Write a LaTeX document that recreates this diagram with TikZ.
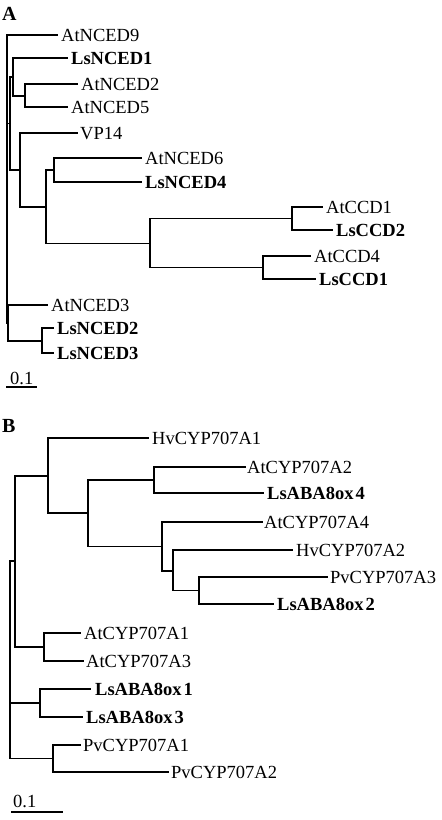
\documentclass[tikz,border=0pt]{standalone}
\usepackage{fontspec}
\setmainfont{Liberation Serif}
\newcommand{\treefont}{\fontsize{18.5}{20}\selectfont}
\begin{document}
\begin{tikzpicture}[x=1pt,y=-1pt,
  br/.style={line width=1.8pt, line cap=rect},
  lbl/.style={anchor=west, inner sep=0pt, text depth=0pt, font=\treefont},
  bl/.style={lbl, font=\treefont\bfseries},
  panel/.style={anchor=west, inner sep=0pt, font=\fontsize{20}{22}\selectfont\bfseries}]
\useasboundingbox (0,0) rectangle (442,820);

% ---------- Panel A ----------
\node[panel] (labA) at (2,14) {A};
\coordinate (rA) at (7,179);
\coordinate (tAt9) at (57,35);
\coordinate (n2) at (10,123.5);
\coordinate (nLs1) at (13,77);
\coordinate (tLs1) at (67,58);
\coordinate (n25) at (25,96);
\coordinate (tAt2) at (77,84);
\coordinate (tAt5) at (67,107);
\coordinate (nVP) at (20,170);
\coordinate (tVP) at (77,133);
\coordinate (n46) at (46,207);
\coordinate (n54) at (54,170);
\coordinate (tAt6) at (141,158);
\coordinate (tLs4) at (141,182);
\coordinate (nCCD) at (150,243.5);
\coordinate (nC1) at (292,218.5);
\coordinate (tAtC1) at (322,207);
\coordinate (tLsC2) at (332,230);
\coordinate (nC4) at (263,267.5);
\coordinate (tAtC4) at (310,256);
\coordinate (tLsC1) at (315,279);
\coordinate (nB) at (8,323);
\coordinate (tAt3) at (47,305);
\coordinate (nLs23) at (42,341);
\coordinate (tLs2) at (53,328);
\coordinate (tLs3) at (53,353);

\node[lbl] (AtNCED9) at (61,35) {AtNCED9};
\node[bl] (LsNCED1) at (71,58) {LsNCED1};
\node[lbl] (AtNCED2) at (81,84) {AtNCED2};
\node[lbl] (AtNCED5) at (71,107) {AtNCED5};
\node[lbl] (VP14) at (80,133) {VP14};
\node[lbl] (AtNCED6) at (145,158) {AtNCED6};
\node[bl] (LsNCED4) at (145,182) {LsNCED4};
\node[lbl] (AtCCD1) at (326,207) {AtCCD1};
\node[bl] (LsCCD2) at (336,230) {LsCCD2};
\node[lbl] (AtCCD4) at (314,256) {AtCCD4};
\node[bl] (LsCCD1) at (319,279) {LsCCD1};
\node[lbl] (AtNCED3) at (51,305) {AtNCED3};
\node[bl] (LsNCED2) at (57,328) {LsNCED2};
\node[bl] (LsNCED3) at (57,353) {LsNCED3};

\draw[br] (tAt9) -| (rA) |- (nB);
\draw[br] (rA) |- (n2);
\draw[br] (nLs1) -| (n2) |- (nVP);
\draw[br] (tLs1) -| (nLs1) |- (n25);
\draw[br] (tAt2) -| (n25) |- (tAt5);
\draw[br] (tVP) -| (nVP) |- (n46);
\draw[br] (n54) -| (n46) |- (nCCD);
\draw[br] (tAt6) -| (n54) |- (tLs4);
\draw[br] (nC1) -| (nCCD) |- (nC4);
\draw[br] (tAtC1) -| (nC1) |- (tLsC2);
\draw[br] (tAtC4) -| (nC4) |- (tLsC1);
\draw[br] (tAt3) -| (nB) |- (nLs23);
\draw[br] (tLs2) -| (nLs23) |- (tLs3);

\node[lbl] (sA) at (10,378) {0.1};
\coordinate (sA1) at (7,387);
\coordinate (sA2) at (36,387);
\draw[br] (sA1) -- (sA2);

% ---------- Panel B ----------
\node[panel] (labB) at (2,426) {B};
\coordinate (rB) at (10,659.5);
\coordinate (n15) at (15,561);
\coordinate (n48) at (48,476);
\coordinate (tHv1) at (148,438);
\coordinate (n88) at (88,513);
\coordinate (n154) at (154,480);
\coordinate (tAtA2) at (245,467);
\coordinate (tLsB4) at (263,493);
\coordinate (n162) at (162,546.5);
\coordinate (tAtA4) at (262,522);
\coordinate (n173) at (173,571);
\coordinate (tHv2) at (292,550);
\coordinate (n199) at (199,590.5);
\coordinate (tPv3) at (327,577);
\coordinate (tLsB2) at (273,604);
\coordinate (nAt13) at (44,647);
\coordinate (tAtA1) at (80,633);
\coordinate (tAtA3) at (83,661);
\coordinate (nLs13) at (40,703);
\coordinate (tLsB1) at (90,689);
\coordinate (tLsB3) at (82,717);
\coordinate (nPv) at (53,758.5);
\coordinate (tPv1) at (80,745);
\coordinate (tPv2) at (168,772);

\node[lbl] (HvCYP707A1) at (152,438) {HvCYP707A1};
\node[lbl] (AtCYP707A2) at (247,467) {AtCYP707A2};
\node[bl] (LsABA8ox4) at (267,493) {LsABA8ox\kern2pt 4};
\node[lbl] (AtCYP707A4) at (264,522) {AtCYP707A4};
\node[lbl] (HvCYP707A2) at (296,550) {HvCYP707A2};
\node[lbl] (PvCYP707A3) at (330,577) {PvCYP707A3};
\node[bl] (LsABA8ox2) at (277,604) {LsABA8ox\kern2pt 2};
\node[lbl] (AtCYP707A1) at (84,633) {AtCYP707A1};
\node[lbl] (AtCYP707A3) at (86,661) {AtCYP707A3};
\node[bl] (LsABA8ox1) at (95,689) {LsABA8ox\kern2pt 1};
\node[bl] (LsABA8ox3) at (86,717) {LsABA8ox\kern2pt 3};
\node[lbl] (PvCYP707A1) at (83,745) {PvCYP707A1};
\node[lbl] (PvCYP707A2) at (171,772) {PvCYP707A2};

\draw[br] (n15) -| (rB) |- (nPv);
\draw[br] (rB) |- (nLs13);
\draw[br] (n48) -| (n15) |- (nAt13);
\draw[br] (tHv1) -| (n48) |- (n88);
\draw[br] (n154) -| (n88) |- (n162);
\draw[br] (tAtA2) -| (n154) |- (tLsB4);
\draw[br] (tAtA4) -| (n162) |- (n173);
\draw[br] (tHv2) -| (n173) |- (n199);
\draw[br] (tPv3) -| (n199) |- (tLsB2);
\draw[br] (tAtA1) -| (nAt13) |- (tAtA3);
\draw[br] (tLsB1) -| (nLs13) |- (tLsB3);
\draw[br] (tPv1) -| (nPv) |- (tPv2);

\node[lbl] (sB) at (13,801) {0.1};
\coordinate (sB1) at (12,812);
\coordinate (sB2) at (62,812);
\draw[br] (sB1) -- (sB2);
\end{tikzpicture}
\end{document}
